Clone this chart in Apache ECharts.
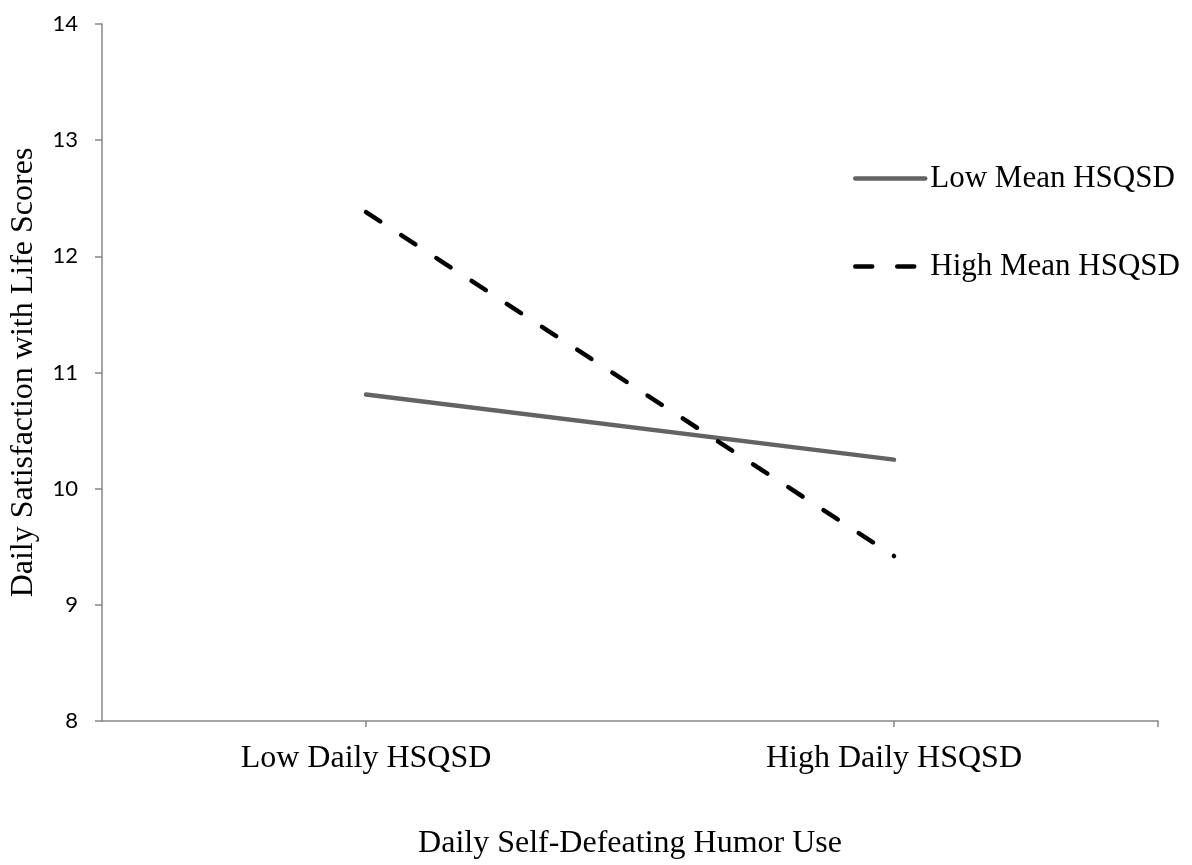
<!DOCTYPE html>
<html>
<head>
<meta charset="utf-8">
<script src="https://cdn.jsdelivr.net/npm/echarts@6/dist/echarts.min.js"></script>
<style>
  html, body { margin: 0; padding: 0; background: #fff; }
  #chart { width: 1192px; height: 865px; }
</style>
</head>
<body>
<div id="chart"></div>
<script>
// Interaction plot: daily self-defeating humor vs. daily satisfaction with life
const categories = ['Low Daily HSQSD', 'High Daily HSQSD'];
const lowMeanValues = [10.81, 10.25];
const highMeanValues = [12.38, 9.42];
const seriesNames = ['Low Mean HSQSD', 'High Mean HSQSD'];
const yTicks = { min: 8, max: 14, step: 1 };

// Category slots: each category sits at an odd slot so that the axis has
// quarter-width padding on both ends, like a between-tick-mark layout.
const slots = [''];
categories.forEach(c => { slots.push(c); slots.push(''); });
const toSlot = vals => vals.map((v, i) => [2 * i + 1, v]);

const serif = '"Liberation Serif", "Times New Roman", serif';
const axisGray = '#868686';

const chart = echarts.init(document.getElementById('chart'));
chart.setOption({
  backgroundColor: '#ffffff',
  animation: false,
  grid: { left: 101, right: 34, top: 24, bottom: 141 },
  legend: {
    orient: 'vertical',
    left: 848,
    top: 158,
    itemWidth: 70,
    itemHeight: 10,
    itemGap: 57,
    itemStyle: { color: 'transparent', borderWidth: 0, opacity: 0 },
    lineStyle: { width: 4.5, cap: 'round' },
    textStyle: { fontFamily: serif, fontSize: 31, color: '#000' },
    data: seriesNames
  },
  xAxis: {
    type: 'category',
    data: slots,
    boundaryGap: false,
    name: 'Daily Self-Defeating Humor Use',
    nameLocation: 'middle',
    nameGap: 107,
    nameTextStyle: { fontFamily: serif, fontSize: 32, color: '#000' },
    axisLine: { lineStyle: { color: axisGray, width: 1.5 } },
    axisTick: {
      show: true,
      length: 6,
      interval: (idx, val) => idx > 0 && (val !== '' || idx === slots.length - 1),
      lineStyle: { color: axisGray, width: 1.5 }
    },
    axisLabel: {
      interval: 0,
      margin: 22,
      fontFamily: serif,
      fontSize: 32,
      color: '#000'
    },
    splitLine: { show: false }
  },
  yAxis: {
    type: 'value',
    min: yTicks.min,
    max: yTicks.max,
    interval: yTicks.step,
    name: 'Daily Satisfaction with Life Scores',
    nameLocation: 'middle',
    nameGap: 62,
    nameTextStyle: { fontFamily: serif, fontSize: 32, color: '#000' },
    axisLine: { show: true, lineStyle: { color: axisGray, width: 1.5 } },
    axisTick: { show: true, length: 7, lineStyle: { color: axisGray, width: 1.5 } },
    axisLabel: { margin: 24, fontFamily: 'Lato, "Open Sans", sans-serif', fontSize: 22, color: '#000' },
    splitLine: { show: false }
  },
  series: [
    {
      name: seriesNames[0],
      type: 'line',
      data: toSlot(lowMeanValues),
      symbol: 'none',
      connectNulls: true,
      color: '#636363',
      lineStyle: { color: '#636363', width: 4.5, cap: 'round' }
    },
    {
      name: seriesNames[1],
      type: 'line',
      data: toSlot(highMeanValues),
      symbol: 'none',
      connectNulls: true,
      color: '#000000',
      lineStyle: { color: '#000000', width: 4.5, type: [17, 25], cap: 'round' }
    }
  ]
});
</script>
</body>
</html>
